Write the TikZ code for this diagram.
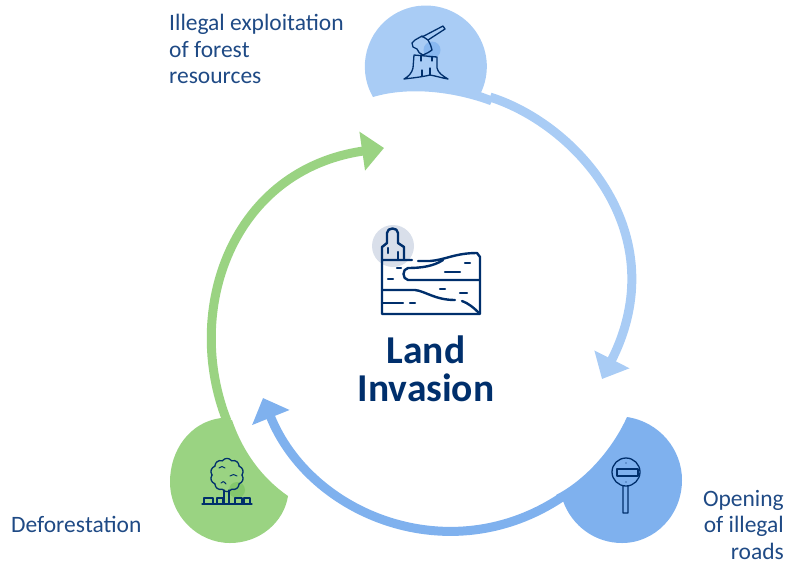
\documentclass[tikz,border=0pt]{standalone}
\usepackage{fontspec}
\usepackage{xcolor}
\usetikzlibrary{arrows.meta,calc}
\setmainfont[Ligatures=Rare]{Carlito}
\definecolor{landNavy}{HTML}{002F6C}
\definecolor{landText}{HTML}{1F4A85}
\definecolor{landSky}{HTML}{A9CCF5}
\definecolor{landBlue}{HTML}{7FB1EE}
\definecolor{landGreen}{HTML}{9AD382}
\definecolor{landLeaf}{HTML}{84C76C}
\definecolor{landGrey}{HTML}{D9DFEA}

\begin{document}
\begin{tikzpicture}[x=1pt,y=-1pt,
    steplabel/.style={text=landText,font=\fontsize{23.5}{26.5}\selectfont,inner sep=0pt},
    iconline/.style={draw=landNavy,line width=1.3pt,line cap=round,line join=round},
    bigicon/.style={draw=landNavy,line width=2.4pt,line cap=round,line join=round},
    ringarrow/.style={line width=9pt}
    ]
    \useasboundingbox (0,0) rectangle (797,566);
    % blobs
    \fill[landSky] (373,97) arc[start angle=150,end angle=385,radius=61]
        -- (494,97) -- (490,105) .. controls (455,92) and (410,86) .. cycle;
    \fill[landGreen] (221,418) .. controls (190,422) and (170,450) .. (170,482)
        .. controls (170,516) and (198,543) .. (230,543)
        .. controls (260,543) and (284,522) .. (288,496)
        .. controls (262,478) and (243,452) .. (232,420) -- cycle;
    \fill[landBlue] (627,417) .. controls (660,422) and (682,450) .. (682,480)
        .. controls (682,515) and (655,543) .. (622,543)
        .. controls (595,543) and (572,526) .. (563,501)
        -- (556,495) .. controls (585,480) and (612,450) .. cycle;
    % named ends of the arrows
    \coordinate (axeEnd) at (490,97);
    \coordinate (axeTip) at (602,379);
    \coordinate (signEnd) at (562,497);
    \coordinate (signTip) at (263,398);
    \coordinate (treeEnd) at (227,421);
    \coordinate (treeTip) at (384,148);
    \draw[ringarrow,landSky,-{Triangle[length=22pt,width=38pt]}] (axeEnd)
        .. controls (578,125) and (675,235) .. (axeTip);
    \draw[ringarrow,landBlue,-{Triangle[length=21pt,width=39pt]}] (signEnd)
        .. controls (450,572) and (310,515) .. (signTip);
    \draw[ringarrow,landGreen,-{Triangle[length=22pt,width=38pt]}] (treeEnd)
        .. controls (183,310) and (232,170) .. (treeTip);
    % land icon
    \fill[landGrey] (393,246) circle[radius=21];
    \draw[bigicon] (382,260) -- (382,247) -- (387,243) -- (387,233)
        .. controls (387,227) and (398,227) .. (398,233) -- (398,243) -- (404,247) -- (404,260);
    \draw[bigicon] (388,248) -- (388,253) (398,252) -- (398,260);
    \draw[bigicon] (412,260) -- (382,260) -- (382,314) -- (480,314) -- (480,257) -- (477,253)
        .. controls (455,253) and (445,260) .. (430,261) -- (418,261);
    \draw[bigicon] (479,280) -- (408,280) .. controls (402,279) and (402,269) .. (408,268)
        .. controls (422,268) and (434,266) .. (443,260);
    \draw[bigicon] (382,290) -- (415,290) .. controls (425,291) and (435,300) .. (455,300);
    \draw[bigicon] (462,301) .. controls (468,303) and (474,308) .. (478,312);
    \draw[bigicon] (382,303) -- (403,303) (410,303) -- (415,303) (445,272) -- (460,272)
        (465,263) -- (470,263) (397,268) -- (401,268) (388,279) -- (393,279)
        (440,289) -- (445,289) (460,293) -- (467,293);
    % axe icon
    \fill[landBlue!75!landSky] (432,50) circle[radius=8.5];
    \draw[iconline] (414,55) -- (437,57) (414,55) -- (413,68) .. controls (412,73) and (408,77) .. (404,79)
        .. controls (412,78) and (422,77) .. (430,75) .. controls (436,76) and (442,78) .. (448,79)
        .. controls (443,76) and (438,73) .. (437,68) -- (437,57);
    \draw[iconline] (422,70) -- (422,76) (430,68) -- (430,75) (421,55) -- (421,61) (432,57) -- (432,61);
    \draw[iconline] (422,37) -- (443,26) -- (445,29) -- (428,40);
    \draw[iconline] (422,36) -- (415,40) -- (412,43) -- (413,47) -- (417,49) .. controls (418,52) and (420,54) .. (423,55)
        .. controls (427,53) and (430,52) .. (432,50) .. controls (431,46) and (430,43) .. (428,40) -- (422,36);
    % sign icon
    \draw[iconline] (626,472) circle[radius=14] (623,486) -- (623,513) -- (628,513) -- (628,486);
    \draw[iconline,line width=2pt] (617,469) rectangle (638,476);
    \fill[landNavy] (626,463) circle[radius=0.7] (626,482) circle[radius=0.7];
    % tree icon
    \fill[landLeaf] (237,490) circle[radius=8];
    \foreach \a in {0,36,...,324}{
        \draw[iconline] ($(227,475)+(\a:15)$) .. controls ($(227,475)+(\a+12:17.5)$) and ($(227,475)+(\a+24:17.5)$) .. ($(227,475)+(\a+36:15)$);
    }
    \draw[iconline] (202,504) -- (252,504) (224,490) -- (224,504) (229,490) -- (229,504)
        (204,504) -- (204,498) -- (213,498) -- (213,504) (217,504) -- (217,498) -- (223,498) -- (223,504)
        (235,504) -- (235,498) -- (242,498) -- (242,504) (244,504) -- (244,498) -- (250,498) -- (250,504);
    \draw[iconline,line width=1pt] (219,468) .. controls (221,466) and (223,466) .. (225,468)
        (230,476) .. controls (232,474) and (235,474) .. (237,476)
        (221,483) .. controls (222,481) and (224,481) .. (226,484);
    % labels
    \node[steplabel,align=left,anchor=north west] (axeLabel) at (169,14)
        {Illegal exploitation\\of fores\kern0pt t\\resources};
    \node[steplabel,align=right,anchor=north east] (signLabel) at (784,490)
        {Opening\\of illegal\\roads};
    \node[steplabel,anchor=west] (treeLabel) at (11,524) {Defores\kern0pt tation};
    \node[text=landNavy,font=\bfseries\fontsize{39.5}{38}\selectfont,align=center,inner sep=0pt] (landLabel) at (426,369)
        {Land\\Invasion};
\end{tikzpicture}
\end{document}
